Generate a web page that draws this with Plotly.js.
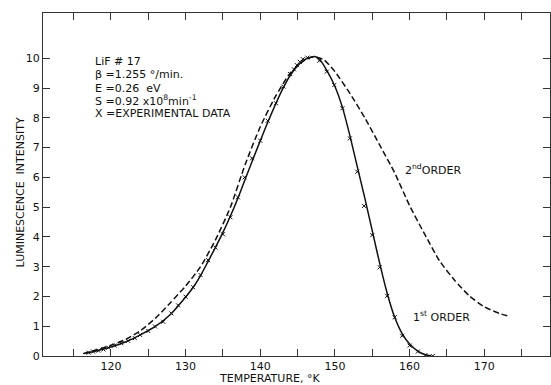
<!DOCTYPE html>
<html>
<head>
<meta charset="utf-8">
<script src="https://cdn.plot.ly/plotly-3.0.1.min.js"></script>
<style>html,body{margin:0;padding:0;background:#fff;}#chart{width:551px;height:385px;}</style>
</head>
<body>
<div id="chart"></div>
<script>
// First-order theoretical curve (solid)
const firstT = [116.3,118,120,122,124,126,128,130,131,132,133,134,135,136,137,138,139,140,141,142,143,144,145,146,147.3,148,149,150,151,152,153,154,155,156,157,158,159,160,161,162,162.9];
const firstI = [0.08,0.17,0.3,0.48,0.72,1.0,1.4,1.98,2.3,2.7,3.17,3.65,4.15,4.7,5.3,5.95,6.6,7.23,7.85,8.43,8.97,9.42,9.75,9.96,10.06,9.95,9.55,9.05,8.35,7.4,6.35,5.3,4.2,3.1,2.1,1.3,0.75,0.4,0.18,0.05,0.0];

// Second-order theoretical curve (dashed)
const secondT = [116.3,118,120,122,124,126,128,130,132,134,136,138,140,142,144,146,147.2,148.5,150,152,154,156,158,160,162,164,166,168,170,172,173.2];
const secondI = [0.08,0.2,0.36,0.56,0.86,1.28,1.8,2.35,3.0,3.9,5.0,6.45,7.7,8.7,9.5,9.95,10.05,9.95,9.55,8.82,8.0,7.08,6.15,5.05,4.1,3.2,2.55,2.02,1.65,1.43,1.34];

// Experimental data (x markers)
const expT = [117,117.6,118.3,119,119.65,120.5,121.4,122.3,123.2,123.9,125,125.9,127,128.1,129,130,131,132,133,134,135,136,137,137.9,138.9,140,141,142.1,143.1,144,144.5,144.9,145.3,145.7,146.3,147.9,148.9,149.9,151,152,153,153.9,155,156,157,158,159,160,161.1,162.1,163.1];
const expI = [0.11,0.15,0.18,0.22,0.28,0.35,0.43,0.51,0.6,0.71,0.84,0.99,1.15,1.43,1.7,1.99,2.31,2.72,3.22,3.64,4.09,4.66,5.33,6.0,6.64,7.23,7.9,8.49,9.05,9.47,9.63,9.77,9.88,9.97,10.02,9.92,9.55,9.1,8.32,7.31,6.19,5.04,4.06,2.98,2.02,1.3,0.68,0.35,0.15,0.03,0.0];

const xTickVals = [120,130,140,150,160,170];
const xTickText = ['120','130','140','150','160','170'];
const yTickVals = [0,1,2,3,4,5,6,7,8,9,10];

const FONT = 'DejaVu Sans, sans-serif';
const INK = '#111';

const traces = [
  {x: secondT, y: secondI, type: 'scatter', mode: 'lines', line: {color: INK, width: 1.5, dash: '6px,3px', shape: 'spline', smoothing: 0.6}, hoverinfo: 'skip'},
  {x: firstT, y: firstI, type: 'scatter', mode: 'lines', line: {color: INK, width: 1.5, shape: 'spline', smoothing: 0.6}, hoverinfo: 'skip'},
  {x: expT, y: expI, type: 'scatter', mode: 'markers', marker: {symbol: 'x-thin', size: 4, color: INK, line: {color: INK, width: 1}}, hoverinfo: 'skip'}
];

const textAnn = (x, y, text, extra) => Object.assign({x: x, y: y, xref: 'x', yref: 'y', text: text, showarrow: false, xanchor: 'left', yanchor: 'middle', font: {family: FONT, size: 11, color: INK}}, extra || {});

const layout = {
  width: 551, height: 385,
  margin: {l: 43, r: 1, t: 13, b: 29},
  paper_bgcolor: '#fff', plot_bgcolor: '#fff',
  showlegend: false,
  font: {family: FONT, size: 11, color: INK},
  xaxis: {
    range: [110.9, 178.8], showgrid: false, zeroline: false,
    showline: true, linecolor: '#333', linewidth: 1, mirror: 'ticks',
    tickvals: xTickVals, ticktext: xTickText,
    ticks: 'inside', ticklen: 7, tickcolor: '#333', tickwidth: 1,
    ticklabelstandoff: 0,
    minor: {dtick: 5, tick0: 0, ticks: 'inside', ticklen: 7, tickcolor: '#333', tickwidth: 1, showgrid: false},
    tickfont: {family: FONT, size: 11, color: INK}
  },
  yaxis: {
    range: [0, 11.52], showgrid: false, zeroline: false,
    showline: true, linecolor: '#333', linewidth: 1, mirror: 'ticks',
    tickvals: yTickVals,
    ticks: 'inside', ticklen: 7, tickcolor: '#333', tickwidth: 1,
    tickfont: {family: FONT, size: 11, color: INK}
  },
  annotations: [
    textAnn(117.6, 9.88, 'LiF # 17'),
    textAnn(117.6, 9.44, 'β =1.255 °/min.'),
    textAnn(117.6, 9.0, 'E =0.26  eV'),
    textAnn(117.6, 8.57, 'S =0.92 x10<sup>8</sup>min<sup>-1</sup>'),
    textAnn(117.6, 8.16, 'X =EXPERIMENTAL DATA'),
    textAnn(159.1, 6.28, '2<sup>nd</sup>ORDER'),
    textAnn(160.25, 1.34, '1<sup>st</sup> ORDER'),
    {x: 141.3, y: -0.067, xref: 'x', yref: 'paper', text: 'TEMPERATURE, °K', showarrow: false, xanchor: 'center', yanchor: 'middle', font: {family: FONT, size: 11, color: INK}},
    {x: -0.045, y: 5.5, xref: 'paper', yref: 'y', text: 'LUMINESCENCE  INTENSITY', textangle: -90, showarrow: false, xanchor: 'center', yanchor: 'middle', font: {family: FONT, size: 11, color: INK}}
  ]
};

Plotly.newPlot('chart', traces, layout, {staticPlot: true, displayModeBar: false});
</script>
</body>
</html>
